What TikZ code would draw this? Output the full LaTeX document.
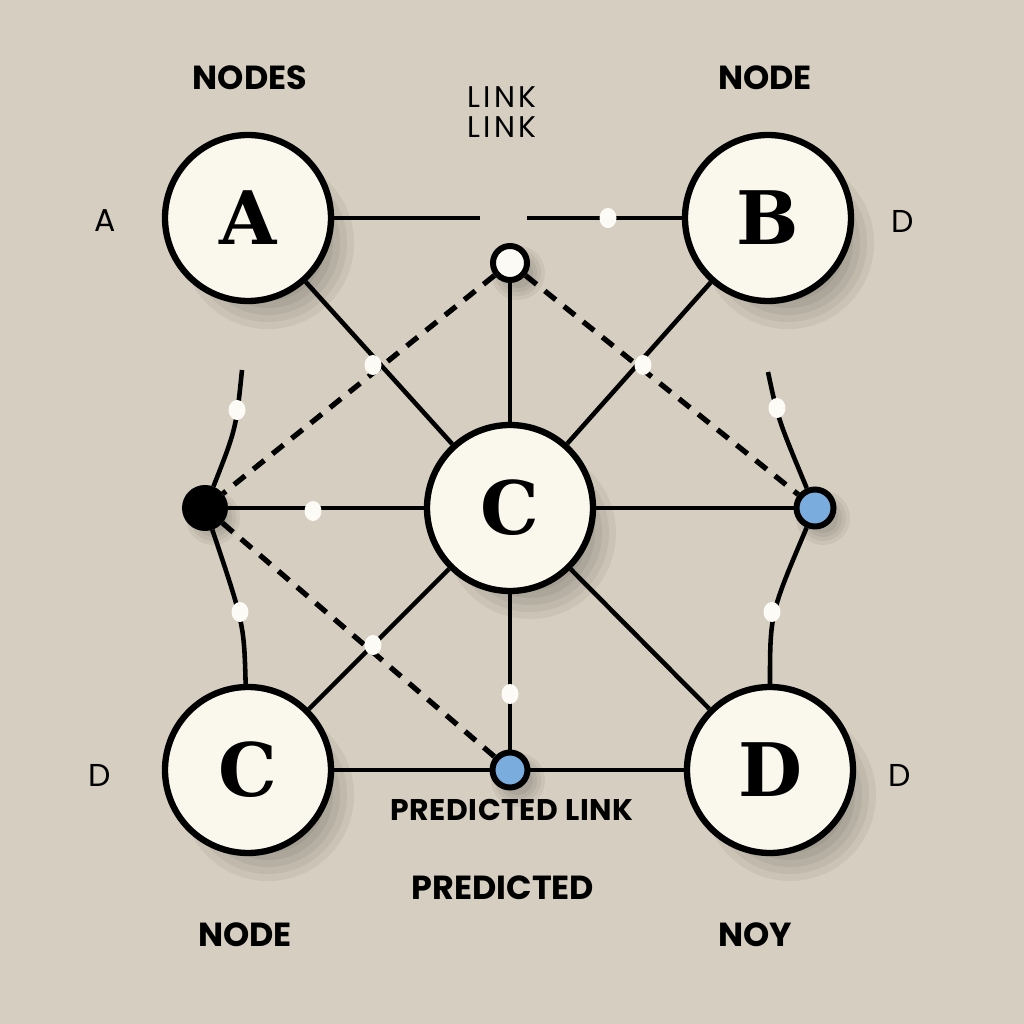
\documentclass[tikz,border=0pt]{standalone}
\usepackage{fontspec}
\setmainfont{DejaVu Serif}
\newfontfamily\tagfont{Poppins}
\newfontfamily\spacedfont[LetterSpace=10]{Poppins}
\newfontfamily\predfont[LetterSpace=2]{Poppins}
\usetikzlibrary{positioning}

\definecolor{paper}{RGB}{214,206,192}
\definecolor{cream}{RGB}{250,247,237}
\definecolor{predblue}{RGB}{122,172,222}

\tikzset{
  graphnode/.style={circle, draw=black, line width=1.8pt, fill=cream,
    minimum size=1.66cm, inner sep=0pt, font=\fontsize{21}{24}\selectfont\bfseries},
  hubnode/.style={circle, draw=black, line width=1.7pt, inner sep=0pt, minimum size=#1},
  linkdot/.style={ellipse, fill=cream!50!white, inner sep=0pt, minimum width=0.17cm, minimum height=0.2cm},
  link/.style={line width=1.3pt},
  predlink/.style={line width=1.5pt, dash pattern=on 4pt off 3pt},
  tag/.style={font=\tagfont\bfseries\fontsize{9.5}{11}\selectfont},
  sidetag/.style={font=\tagfont\fontsize{9}{10}\selectfont},
  spacedtag/.style={font=\spacedfont\fontsize{8.5}{10}\selectfont},
}
\usetikzlibrary{shapes.geometric}

\begin{document}
\begin{tikzpicture}
  \fill[paper] (0,0) rectangle (10.24,10.24);
  \useasboundingbox (0,0) rectangle (10.24,10.24);

  % soft shadows
  \foreach \p in {(2.48,8.06),(7.68,8.06),(5.10,5.16),(2.48,2.54),(7.70,2.54)}
    \foreach \s in {0,...,5}
      \fill[black, opacity=0.05, shift={\p}] (0.2,-0.25) circle (0.86-0.07*\s);
  \foreach \p in {(5.10,7.61),(2.05,5.16),(8.15,5.16),(5.10,2.54)}
    \foreach \s in {0,...,3}
      \fill[black, opacity=0.05, shift={\p}] (0.08,-0.1) circle (0.27-0.04*\s);

  % nodes
  \node[graphnode] (a) at (2.48,8.06) {A};
  \node[graphnode] (b) at (7.68,8.06) {B};
  \node[graphnode] (c) at (5.10,5.16) {C};
  \node[graphnode] (cc) at (2.48,2.54) {C};
  \node[graphnode] (d) at (7.70,2.54) {D};
  \node[hubnode=0.34cm, fill=cream!60!white] (t) at (5.10,7.61) {};
  \node[hubnode=0.40cm, fill=black] (l) at (2.05,5.16) {};
  \node[hubnode=0.37cm, fill=predblue] (r) at (8.15,5.16) {};
  \node[hubnode=0.35cm, fill=predblue] (p) at (5.10,2.54) {};

  \coordinate (gapl) at (4.80,8.06);
  \coordinate (gapr) at (5.27,8.06);
  \coordinate (lt) at (2.42,6.54);
  \coordinate (rt) at (7.68,6.52);

  % links
  \draw[link] (a) -- (gapl);
  \draw[link] (gapr) -- (b);
  \draw[link] (a) -- (c);
  \draw[link] (b) -- (c);
  \draw[link] (t) -- (c);
  \draw[link] (l) -- (c);
  \draw[link] (c) -- (r);
  \draw[link] (c) -- (cc);
  \draw[link] (c) -- (d);
  \draw[link] (c) -- (p);
  \draw[link] (cc) -- (p);
  \draw[link] (p) -- (d);
  \draw[link] (lt) .. controls (2.36,5.95) .. (l);
  \draw[link] (l) .. controls (2.44,4.0) .. (cc);
  \draw[link] (rt) .. controls (7.78,6.05) .. (r);
  \draw[link] (r) .. controls (7.70,4.1) .. (d);

  % predicted links
  \draw[predlink] (t) -- (l);
  \draw[predlink] (t) -- (r);
  \draw[predlink] (l) -- (p);

  % link markers
  \node[linkdot] (m1) at (6.08,8.06) {};
  \node[linkdot] (m2) at (3.73,6.59) {};
  \node[linkdot] (m3) at (6.43,6.59) {};
  \node[linkdot] (m4) at (2.37,6.14) {};
  \node[linkdot] (m5) at (7.77,6.16) {};
  \node[linkdot] (m6) at (3.13,5.13) {};
  \node[linkdot] (m7) at (2.40,4.12) {};
  \node[linkdot] (m8) at (7.72,4.12) {};
  \node[linkdot] (m9) at (3.73,3.79) {};
  \node[linkdot] (m10) at (5.10,3.30) {};

  % labels
  \node[tag] (nodes) at (2.50,9.46) {NODES};
  \node[tag] (node) at (7.65,9.46) {NODE};
  \node[spacedtag] (link1) at (5.02,9.27) {LINK};
  \node[spacedtag] (link2) at (5.02,8.97) {LINK};
  \node[sidetag] (la) at (1.05,8.03) {A};
  \node[sidetag] (lb) at (9.03,8.03) {D};
  \node[sidetag] (lc) at (1.00,2.49) {D};
  \node[sidetag] (ld) at (9.00,2.49) {D};
  \node[font=\predfont\bfseries\fontsize{8.5}{10}\selectfont] (plink) at (5.12,2.14) {PREDICTED LINK};
  \node[tag] (pred) at (5.03,1.36) {PREDICTED};
  \node[tag] (nodebl) at (2.45,0.89) {NODE};
  \node[tag] (noy) at (7.55,0.89) {NOY};
\end{tikzpicture}
\end{document}
